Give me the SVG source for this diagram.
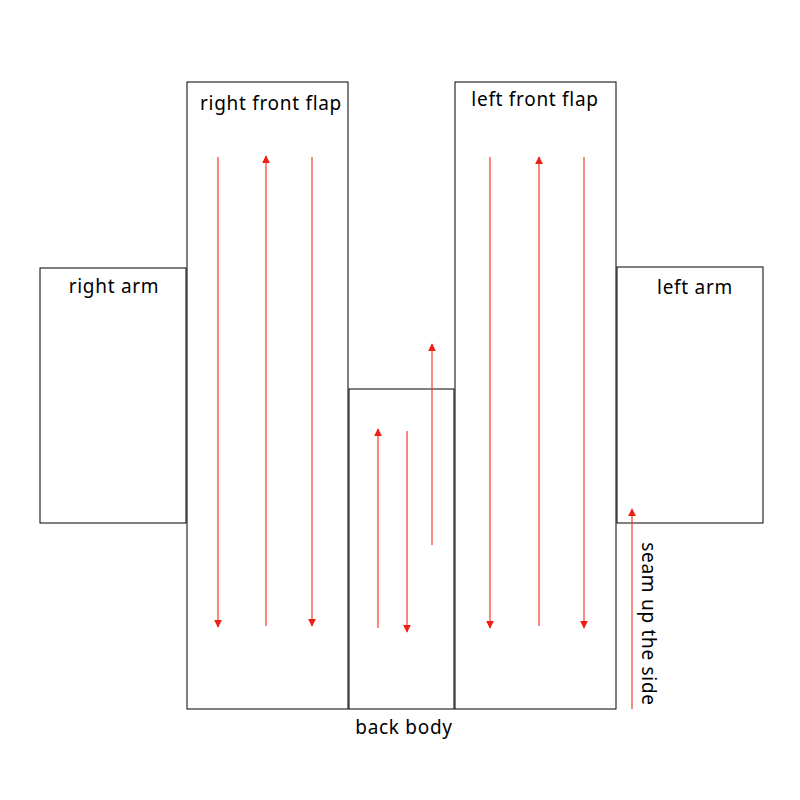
<svg xmlns="http://www.w3.org/2000/svg" width="800" height="800" viewBox="0 0 800 800">
<style>
.p{fill:#fff;stroke:#000;stroke-width:1}
.t{font-family:"Noto Sans","DejaVu Sans",sans-serif;font-size:19px;letter-spacing:0.7px;fill:#000;text-anchor:middle}
.a{stroke:#f03c28;stroke-width:1.2;fill:none;marker-end:url(#h)}
</style>
<defs><marker id="h" viewBox="0 0 10 10" refX="9" refY="5" markerWidth="8" markerHeight="8" markerUnits="userSpaceOnUse" orient="auto"><path d="M0,0 L10,5 L0,10 z" fill="#f01e14"/></marker></defs>
<rect width="800" height="800" fill="#fff"/>
<g id="right-arm"><rect class="p" x="40" y="268" width="146" height="255"/><text class="t" x="114" y="293">right arm</text></g>
<g id="right-front-flap"><rect class="p" x="187" y="82" width="161" height="627"/><text class="t" x="271" y="110">right front flap</text></g>
<g id="back-body"><rect class="p" x="349" y="389" width="105" height="320"/><text class="t" x="404" y="734">back body</text></g>
<g id="left-front-flap"><rect class="p" x="455" y="82" width="161" height="627"/><text class="t" x="535" y="106">left front flap</text></g>
<g id="left-arm"><rect class="p" x="617" y="267" width="146" height="256"/><text class="t" x="695" y="294">left arm</text></g>
<g id="seam"><text class="t" transform="translate(642,624) rotate(90)">seam up the side</text></g>
<g id="connectors">
<line class="a" x1="218" y1="157" x2="218" y2="627"/>
<line class="a" x1="266" y1="626" x2="266" y2="156"/>
<line class="a" x1="312" y1="157" x2="312" y2="626"/>
<line class="a" x1="378" y1="628" x2="378" y2="429"/>
<line class="a" x1="407" y1="431" x2="407" y2="632"/>
<line class="a" x1="432" y1="545" x2="432" y2="344"/>
<line class="a" x1="490" y1="157" x2="490" y2="628"/>
<line class="a" x1="539" y1="626" x2="539" y2="157"/>
<line class="a" x1="584" y1="157" x2="584" y2="628"/>
<line class="a" x1="632" y1="709" x2="632" y2="509"/>
</g>
</svg>
